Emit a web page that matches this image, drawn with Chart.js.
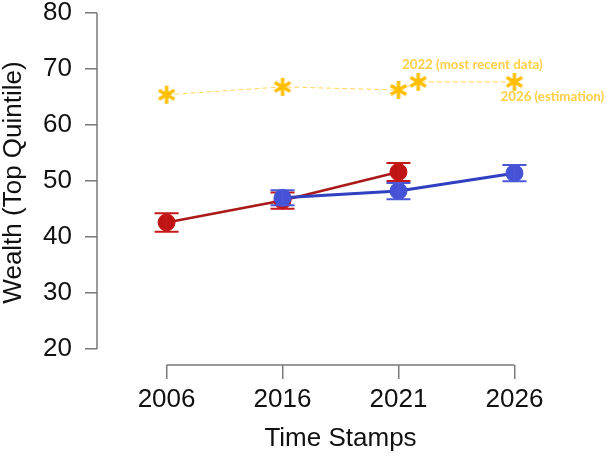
<!DOCTYPE html>
<html>
<head>
<meta charset="utf-8">
<script src="https://cdn.jsdelivr.net/npm/chart.js@4.4.1/dist/chart.umd.min.js"></script>
<style>
  html, body { margin: 0; padding: 0; background: #fff; }
  #wrap { width: 607px; height: 457px; }
</style>
</head>
<body>
<div id="wrap"><canvas id="mychart" width="607" height="457"></canvas></div>
<script>
// categories (x positions are the index of each time stamp)
const years = ['2006', '2016', '2021', '2026'];
const yTicks = [20, 30, 40, 50, 60, 70, 80];

// red series
const redX = [0, 1, 2];
const redY = [42.6, 46.5, 51.6];
const redErr = [1.65, 1.45, 1.6];

// blue series
const blueX = [1, 2, 3];
const blueY = [47.0, 48.2, 51.4];
const blueErr = [1.35, 1.45, 1.45];

// yellow stars (2022 sits just after 2021)
const starX = [0, 1, 2, 2.17, 3];
const starY = [65.4, 66.8, 66.25, 67.7, 67.7];

// text notes next to the stars
const noteText = ['2022 (most recent data)', '2026 (estimation)'];
const noteX = [2.03, 2.88];
const noteY = [70.7, 65.0];

const toPts = (xs, ys) => xs.map((x, i) => ({x: x, y: ys[i]}));

// six armed asterisk marker
function makeStar(size, color) {
  const c = document.createElement('canvas');
  c.width = size; c.height = size;
  const g = c.getContext('2d');
  const r = size / 2 - 1;
  g.strokeStyle = color;
  g.lineWidth = 3.4;
  g.translate(size / 2, size / 2);
  [90, 30, 150].forEach(a => {
    const t = a * Math.PI / 180;
    g.beginPath();
    g.moveTo(-r * Math.cos(t), -r * Math.sin(t));
    g.lineTo(r * Math.cos(t), r * Math.sin(t));
    g.stroke();
  });
  return c;
}
const star = makeStar(20, '#FFBF00');

const errorBars = {
  id: 'errorBars',
  afterDatasetDraw(chart, args) {
    const ds = chart.data.datasets[args.index];
    if (!ds.err) return;
    const ctx = chart.ctx;
    const xs = chart.scales.x, ys = chart.scales.y;
    ctx.save();
    ctx.strokeStyle = ds.capColor;
    ctx.lineWidth = 2;
    ds.data.forEach((p, i) => {
      const px = xs.getPixelForValue(p.x);
      const top = ys.getPixelForValue(p.y + ds.err[i]);
      const bot = ys.getPixelForValue(p.y - ds.err[i]);
      ctx.beginPath();
      ctx.moveTo(px, top); ctx.lineTo(px, bot);
      ctx.moveTo(px - 12, top); ctx.lineTo(px + 12, top);
      ctx.moveTo(px - 12, bot); ctx.lineTo(px + 12, bot);
      ctx.stroke();
    });
    ctx.restore();
  }
};

// R style axis lines that run only from first to last tick
const axisLines = {
  id: 'axisLines',
  beforeDatasetsDraw(chart) {
    const ctx = chart.ctx, a = chart.chartArea;
    const xs = chart.scales.x, ys = chart.scales.y;
    ctx.save();
    ctx.strokeStyle = '#7a7a7a';
    ctx.lineWidth = 1.5;
    ctx.beginPath();
    ctx.moveTo(a.left, ys.getPixelForValue(yTicks[0]));
    ctx.lineTo(a.left, ys.getPixelForValue(yTicks[yTicks.length - 1]));
    ctx.moveTo(xs.getPixelForValue(0), a.bottom);
    ctx.lineTo(xs.getPixelForValue(years.length - 1), a.bottom);
    ctx.stroke();
    ctx.restore();
  }
};

const notes = {
  id: 'notes',
  afterDraw(chart) {
    const ctx = chart.ctx;
    const xs = chart.scales.x, ys = chart.scales.y;
    ctx.save();
    ctx.font = 'bold 13.3px Lato';
    ctx.fillStyle = '#FFCF45';
    ctx.textBaseline = 'middle';
    noteText.forEach((t, i) => {
      ctx.fillText(t, xs.getPixelForValue(noteX[i]), ys.getPixelForValue(noteY[i]));
    });
    ctx.restore();
  }
};

const a = document.getElementById('mychart').getContext('2d');
const mychart = new Chart(a, {
  type: 'line',
  data: {
    datasets: [
      {
        label: 'blue',
        data: toPts(blueX, blueY),
        err: blueErr,
        capColor: '#4a58d8',
        borderColor: '#3040c0',
        borderWidth: 3,
        pointRadius: 8.5,
        pointBackgroundColor: '#4352d6',
        pointBorderColor: '#4352d6',
        pointBorderWidth: 1,
        order: 0
      },
      {
        label: 'red',
        data: toPts(redX, redY),
        err: redErr,
        capColor: '#c41a1a',
        borderColor: '#aa1818',
        borderWidth: 2.5,
        pointRadius: 8.5,
        pointBackgroundColor: '#c01414',
        pointBorderColor: '#c01414',
        pointBorderWidth: 1,
        order: 1
      },
      {
        label: 'stars',
        data: toPts(starX, starY),
        borderColor: '#FFD55A',
        borderWidth: 1,
        borderDash: [5, 3],
        pointStyle: star,
        order: 2
      }
    ]
  },
  options: {
    responsive: false,
    animation: false,
    devicePixelRatio: 1,
    events: [],
    layout: { autoPadding: false, padding: { top: 0, right: 23, left: 0, bottom: 0 } },
    plugins: { legend: { display: false }, tooltip: { enabled: false } },
    scales: {
      x: {
        type: 'linear',
        min: -0.6,
        max: 3.6,
        afterFit: s => { s.height = 92; s.paddingLeft = 0; s.paddingRight = 0; },
        afterBuildTicks: s => { s.ticks = years.map((_, i) => ({value: i})); },
        border: { display: false },
        grid: { drawOnChartArea: false, drawTicks: true, tickLength: 14, color: '#7a7a7a', lineWidth: 1.5 },
        ticks: {
          callback: v => years[v],
          color: '#111',
          padding: 5,
          maxRotation: 0,
          font: { family: 'Liberation Sans', size: 26 }
        },
        title: {
          display: true,
          text: 'Time Stamps',
          color: '#111',
          padding: { top: 0, bottom: 3 },
          font: { family: 'Liberation Sans', size: 26, lineHeight: 1.2 }
        }
      },
      y: {
        min: 17.14,
        max: 82.32,
        afterFit: s => { s.width = 97; s.paddingTop = 0; s.paddingBottom = 0; },
        afterBuildTicks: s => { s.ticks = yTicks.map(v => ({value: v})); },
        border: { display: false },
        grid: { drawOnChartArea: false, drawTicks: true, tickLength: 12, color: '#7a7a7a', lineWidth: 1.5 },
        ticks: {
          color: '#111',
          padding: 13,
          font: { family: 'Liberation Sans', size: 26 }
        },
        title: {
          display: true,
          text: 'Wealth (Top Quintile)',
          color: '#111',
          padding: { top: 0, bottom: 0 },
          font: { family: 'Liberation Sans', size: 26, lineHeight: 1.1 }
        }
      }
    }
  },
  plugins: [axisLines, errorBars, notes]
});
</script>
</body>
</html>
